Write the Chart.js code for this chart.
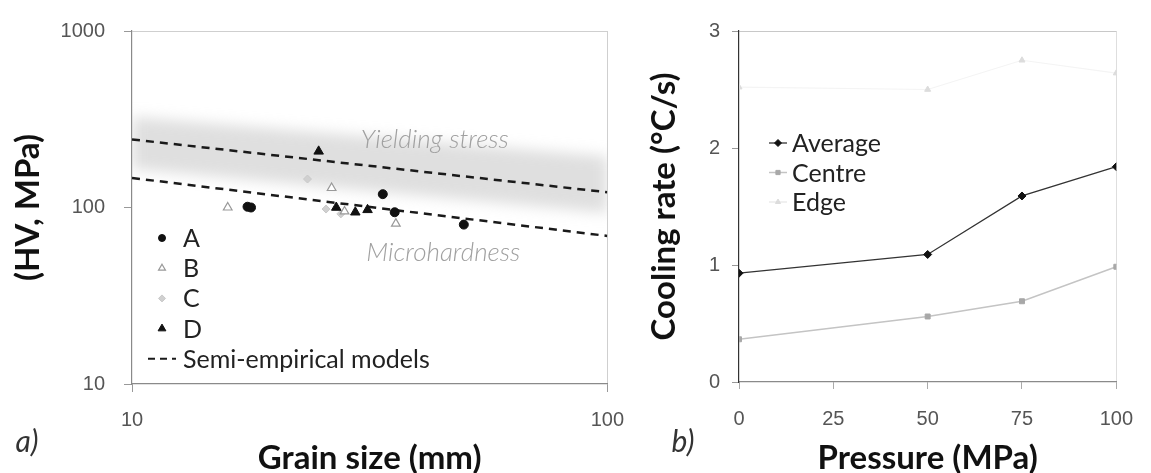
<!DOCTYPE html>
<html>
<head>
<meta charset="utf-8">
<script src="https://cdn.jsdelivr.net/npm/chart.js@4.4.1/dist/chart.umd.min.js"></script>
<style>
  html, body { margin: 0; padding: 0; background: #fff; }
  #wrap { position: relative; width: 1151px; height: 473px; overflow: hidden; }
  canvas { position: absolute; top: 0; }
  #cA { left: 0; }
  #cB { left: 640px; }
  .lab { position: absolute; font-family: Lato, sans-serif; font-style: italic; font-size: 30px; color: #333; transform: translate(-50%, -50%); }
</style>
</head>
<body>
<div id="wrap">
  <canvas id="cA" width="640" height="473"></canvas>
  <canvas id="cB" width="511" height="473"></canvas>
  <div class="lab" style="left:27px; top:440px;">a)</div>
  <div class="lab" style="left:683px; top:440px;">b)</div>
</div>
<script>
// ---------- Panel a data (log-log) ----------
const grainTicks = [10, 100];
const hvTicks = [10, 100, 1000];
const seriesAx = [17.5, 17.8, 33.7, 35.7, 49.9];
const seriesAy = [101, 100, 119, 94, 80];
const seriesBx = [15.9, 26.3, 28.0, 35.9];
const seriesBy = [100, 129, 95, 81];
const seriesCx = [23.4, 25.6, 27.5];
const seriesCy = [145, 98, 92];
const seriesDx = [24.7, 26.9, 29.5, 31.3];
const seriesDy = [208, 100, 94, 97];
const modelX = [10, 100];
const yieldModel = [243, 122];
const microModel = [147, 69];
const bandUpper = [327, 195];
const bandLower = [165, 93];

// ---------- Panel b data ----------
const pressure = [0, 50, 75, 100];
const pressureTicks = [0, 25, 50, 75, 100];
const coolingTicks = [0, 1, 2, 3];
const average = [0.93, 1.09, 1.59, 1.84];
const centre = [0.365, 0.56, 0.69, 0.985];
const edge = [2.52, 2.50, 2.75, 2.64];

const pts = (xs, ys) => xs.map((x, i) => ({ x: x, y: ys[i] }));

const tickFont = { family: 'Liberation Sans', size: 20 };
const titleFont = { family: 'Lato', size: 33, weight: 'bold', lineHeight: 0.9 };
const legendFont = '25px Lato';

function setTicks(list) {
  return function (scale) { scale.ticks = list.map(v => ({ value: v })); };
}

// blur plugin for the grey band (band fill is drawn first)
const bandBlur = {
  id: 'bandBlur',
  beforeDatasetsDraw(chart) { chart.ctx.filter = 'blur(7px)'; },
  beforeDatasetDraw(chart, args) { if (args.index === 0) chart.ctx.filter = 'none'; },
  afterDatasetsDraw(chart) { chart.ctx.filter = 'none'; }
};

const notesA = [
  { text: 'Yielding stress', x: 30.3, y: 243 },
  { text: 'Microhardness', x: 31.1, y: 55.5 }
];
const notesPlugin = {
  id: 'notes',
  afterDatasetsDraw(chart) {
    const ctx = chart.ctx, sx = chart.scales.x, sy = chart.scales.y;
    ctx.save();
    ctx.font = 'italic 300 26px Lato';
    ctx.fillStyle = '#a0a0a0';
    ctx.textBaseline = 'middle';
    ctx.textAlign = 'left';
    notesA.forEach(n => ctx.fillText(n.text, sx.getPixelForValue(n.x), sy.getPixelForValue(n.y)));
    ctx.restore();
  }
};

function legendPlugin(id, items, x0, y0, dy, textX) {
  return {
    id: id,
    afterDraw(chart) {
      const ctx = chart.ctx;
      ctx.save();
      items.forEach((it, i) => {
        const y = y0 + i * dy;
        const ds = chart.data.datasets[it.ds];
        if (it.line) {
          ctx.strokeStyle = it.lineColor || ds.borderColor;
          ctx.lineWidth = it.lineWidth || ds.borderWidth;
          ctx.setLineDash(it.dash || []);
          ctx.beginPath();
          ctx.moveTo(x0 - it.line, y);
          ctx.lineTo(x0 + it.line, y);
          ctx.stroke();
          ctx.setLineDash([]);
        }
        if (it.marker) {
          ctx.fillStyle = ds.pointBackgroundColor;
          ctx.strokeStyle = ds.pointBorderColor;
          ctx.lineWidth = ds.pointBorderWidth || 1;
          Chart.helpers.drawPoint(ctx, { pointStyle: ds.pointStyle, radius: it.r, rotation: 0, borderWidth: ctx.lineWidth }, x0, y);
        }
        ctx.fillStyle = '#222';
        ctx.font = legendFont;
        ctx.textBaseline = 'middle';
        ctx.textAlign = 'left';
        ctx.fillText(it.label, textX, y + 1);
      });
      ctx.restore();
    }
  };
}

// ---------- Chart a ----------
new Chart(document.getElementById('cA'), {
  type: 'scatter',
  data: {
    datasets: [
      { label: 'band upper', data: pts(modelX, bandUpper), showLine: true, borderWidth: 0, pointRadius: 0,
        borderColor: 'rgba(0,0,0,0)', backgroundColor: 'rgba(185,185,185,0.45)', fill: '+1', order: 10 },
      { label: 'band lower', data: pts(modelX, bandLower), showLine: true, borderWidth: 0, pointRadius: 0,
        borderColor: 'rgba(0,0,0,0)', backgroundColor: 'rgba(0,0,0,0)', fill: false, order: 11 },
      { label: 'Yield model', data: pts(modelX, yieldModel), showLine: true, pointRadius: 0,
        borderColor: '#1a1a1a', borderWidth: 2.5, borderDash: [8, 6], fill: false, order: 5 },
      { label: 'Semi-empirical models', data: pts(modelX, microModel), showLine: true, pointRadius: 0,
        borderColor: '#1a1a1a', borderWidth: 2.5, borderDash: [8, 6], fill: false, order: 5 },
      { label: 'A', data: pts(seriesAx, seriesAy), pointStyle: 'circle', pointRadius: 4.5,
        pointBackgroundColor: '#111', pointBorderColor: '#111', pointBorderWidth: 1, order: 1 },
      { label: 'B', data: pts(seriesBx, seriesBy), pointStyle: 'triangle', pointRadius: 5,
        pointBackgroundColor: '#fff', pointBorderColor: '#999', pointBorderWidth: 1.2, order: 2 },
      { label: 'C', data: pts(seriesCx, seriesCy), pointStyle: 'rectRot', pointRadius: 4,
        pointBackgroundColor: '#d0d0d0', pointBorderColor: '#c8c8c8', pointBorderWidth: 1, order: 3 },
      { label: 'D', data: pts(seriesDx, seriesDy), pointStyle: 'triangle', pointRadius: 5.5,
        pointBackgroundColor: '#111', pointBorderColor: '#111', pointBorderWidth: 1, order: 0 }
    ]
  },
  options: {
    responsive: false,
    animation: false,
    devicePixelRatio: 1,
    layout: { padding: { left: 0, top: 29, right: 31, bottom: 0 } },
    plugins: { legend: { display: false }, tooltip: { enabled: false }, filler: { propagate: false } },
    scales: {
      x: {
        type: 'logarithmic', min: 10, max: 100,
        afterBuildTicks: setTicks(grainTicks),
        afterFit(s) { s.height = 89; },
        border: { display: true, color: '#8a8a8a', width: 1.2 },
        grid: { drawOnChartArea: true, tickLength: 8,
          color: c => (c.tick && c.tick.value === 100) ? '#cfcfcf' : 'rgba(0,0,0,0)',
          tickColor: '#999' },
        ticks: { font: tickFont, color: '#555', padding: 16, maxRotation: 0,
          callback: v => String(v) },
        title: { display: true, text: 'Grain size (mm)', font: titleFont, color: '#111', padding: { top: 0, bottom: 0 } }
      },
      y: {
        type: 'logarithmic', min: 10, max: 1000,
        afterBuildTicks: setTicks(hvTicks),
        afterFit(s) { s.width = 132; },
        border: { display: true, color: '#8a8a8a', width: 1.2 },
        grid: { drawOnChartArea: true, tickLength: 8,
          color: c => (c.tick && c.tick.value === 1000) ? '#cfcfcf' : 'rgba(0,0,0,0)',
          tickColor: '#999' },
        ticks: { font: tickFont, color: '#555', padding: 19, callback: v => String(v) },
        title: { display: true, text: '(HV, MPa)', font: titleFont, color: '#111', padding: { top: 14, bottom: 0 } }
      }
    }
  },
  plugins: [bandBlur, notesPlugin,
    legendPlugin('legA', [
      { ds: 4, marker: true, r: 3.5, label: 'A' },
      { ds: 5, marker: true, r: 4, label: 'B' },
      { ds: 6, marker: true, r: 3.5, label: 'C' },
      { ds: 7, marker: true, r: 4.5, label: 'D' },
      { ds: 3, line: 14, lineWidth: 2, dash: [7, 5], label: 'Semi-empirical models' }
    ], 162, 238, 30.2, 183)]
});

// ---------- Chart b ----------
new Chart(document.getElementById('cB'), {
  type: 'line',
  data: {
    datasets: [
      { label: 'Average', data: pts(pressure, average), borderColor: '#333', borderWidth: 1.3,
        pointStyle: 'rectRot', pointRadius: 4, pointBackgroundColor: '#111', pointBorderColor: '#111', pointBorderWidth: 1, order: 0 },
      { label: 'Centre', data: pts(pressure, centre), borderColor: '#c4c4c4', borderWidth: 1.5,
        pointStyle: 'rect', pointRadius: 3.5, pointBackgroundColor: '#a8a8a8', pointBorderColor: '#a8a8a8', pointBorderWidth: 1, order: 1 },
      { label: 'Edge', data: pts(pressure, edge), borderColor: '#f4f4f4', borderWidth: 1.2,
        pointStyle: 'triangle', pointRadius: 3.5, pointBackgroundColor: '#dcdcdc', pointBorderColor: '#dcdcdc', pointBorderWidth: 1, order: 2 }
    ]
  },
  options: {
    responsive: false,
    animation: false,
    devicePixelRatio: 1,
    layout: { padding: { left: 0, top: 31, right: 21, bottom: 0 } },
    plugins: { legend: { display: false }, tooltip: { enabled: false } },
    scales: {
      x: {
        type: 'linear', min: 0, max: 100,
        afterBuildTicks: setTicks(pressureTicks),
        afterFit(s) { s.height = 91; },
        border: { display: true, color: '#8a8a8a', width: 1.2 },
        grid: { drawOnChartArea: true, tickLength: 7,
          color: c => (c.tick && c.tick.value === 100) ? '#dedede' : 'rgba(0,0,0,0)',
          tickColor: '#aaa' },
        ticks: { font: tickFont, color: '#555', padding: 18, maxRotation: 0 },
        title: { display: true, text: 'Pressure (MPa)', font: titleFont, color: '#111', padding: { top: 0, bottom: 0 } }
      },
      y: {
        type: 'linear', min: 0, max: 3,
        afterBuildTicks: setTicks(coolingTicks),
        afterFit(s) { s.width = 99; },
        border: { display: true, color: '#333', width: 1.2 },
        grid: { drawOnChartArea: true, tickLength: 7,
          color: c => (c.tick && c.tick.value === 3) ? '#c8c8c8' : 'rgba(0,0,0,0)',
          tickColor: '#999' },
        ticks: { font: tickFont, color: '#555', padding: 12 },
        title: { display: true, text: 'Cooling rate (°C/s)', font: titleFont, color: '#111', padding: { top: 10, bottom: 0 } }
      }
    }
  },
  plugins: [
    legendPlugin('legB', [
      { ds: 0, line: 9, marker: true, r: 3.5, label: 'Average' },
      { ds: 1, line: 9, marker: true, r: 3, label: 'Centre' },
      { ds: 2, line: 9, marker: true, r: 3, label: 'Edge', lineColor: '#e6e6e6' }
    ], 138, 143, 29.5, 152)]
});
</script>
</body>
</html>
